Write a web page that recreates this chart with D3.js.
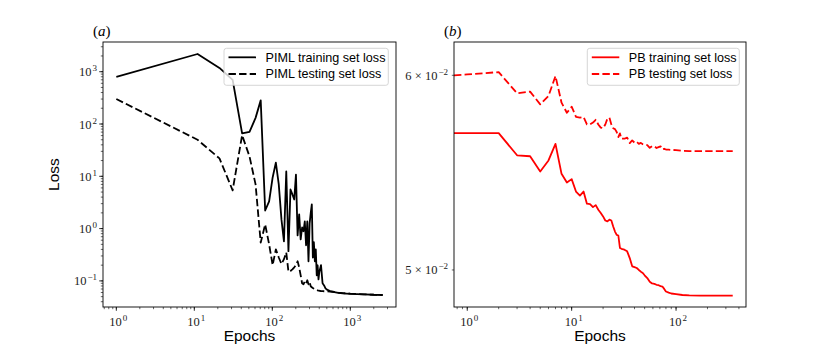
<!DOCTYPE html>
<html>
<head>
<meta charset="utf-8">
<script src="https://cdn.jsdelivr.net/npm/d3@7"></script>
<style>
  html, body { margin: 0; padding: 0; background: #fff; }
  svg { display: block; }
</style>
</head>
<body>
<svg id="chart" width="830" height="346"></svg>
<script>
// ---------------- DATA ----------------
// Panel (a): PIML losses (sampled every 10 epochs, sparser at the flat tail)
const piEpochs = [1,11,21,31,41,51,61,71,81,91,101,111,121,131,141,151,161,171,181,191,201,211,221,231,241,251,261,271,281,291,301,311,321,331,341,351,361,371,381,391,401,421,441,461,481,501,551,601,701,801,1001,1501,2001,2601];
const piTrain = [800,2180,1180,700,66,71,131,283,2.22,3.3,9.5,18.3,7.0,1.5,0.57,12.4,0.37,5.6,4.5,3.6,10.8,0.74,1.87,0.62,1.05,0.89,1.37,0.48,1.37,0.237,1.26,2.0,2.9,0.28,0.55,0.237,0.40,0.128,0.199,0.107,0.15,0.2,0.09,0.082,0.072,0.068,0.064,0.062,0.0593,0.058,0.0567,0.0555,0.0543,0.0538];
const piTest  = [300,50,22,5.4,61,24,7.0,0.54,1.2,0.5,0.2,0.4,0.28,0.21,0.26,0.35,0.15,0.155,0.166,0.182,0.2,0.237,0.182,0.128,0.09,0.086,0.098,0.09,0.103,0.086,0.094,0.079,0.0755,0.073,0.071,0.069,0.068,0.067,0.066,0.0655,0.0648,0.064,0.0637,0.0634,0.0632,0.063,0.0625,0.062,0.0597,0.0585,0.0571,0.0555,0.0543,0.0538];

// Panel (b): PB losses
const pbEpochs = [0,1,2,3,4,5,6,7,8,9,10,11,12,13,14,15,16,17,18,19,20,21,22,23,24,25,26,27,28,29,30,32,34,36,38,40,42,44,46,48,50,53,56,59,62,65,68,71,74,77,80,85,90,100,115,134,170,220,280,349];
const pbTrain = [0.05684,0.05684,0.05684,0.05567,0.05562,0.05483,0.0554,0.05627,0.05471,0.05427,0.05444,0.05381,0.05361,0.05381,0.0532,0.05318,0.05303,0.05313,0.0529,0.05274,0.05257,0.05237,0.05233,0.05241,0.05237,0.05208,0.05183,0.05167,0.05164,0.05104,0.051,0.05096,0.05088,0.05056,0.05017,0.05013,0.05009,0.05,0.04992,0.04986,0.04975,0.04962,0.04945,0.04937,0.04935,0.04931,0.04929,0.04925,0.04923,0.04912,0.049,0.04895,0.04891,0.04888,0.04884,0.04882,0.04881,0.04881,0.04881,0.04881];
const pbTest  = [0.06,0.06005,0.06018,0.059,0.05909,0.05839,0.05885,0.05996,0.05848,0.05793,0.05826,0.05771,0.05767,0.05771,0.0573,0.0573,0.0574,0.05755,0.0573,0.05713,0.0571,0.0573,0.05761,0.05767,0.0573,0.0571,0.05705,0.0569,0.05663,0.05682,0.05654,0.05654,0.0566,0.05631,0.05645,0.05633,0.05638,0.05627,0.05632,0.05625,0.05623,0.0562,0.05606,0.05615,0.05614,0.05605,0.0561,0.05614,0.05598,0.05601,0.05597,0.05596,0.05595,0.05594,0.0559,0.05589,0.05589,0.05589,0.05589,0.05589];

// Tick labels
const xTicksA = [1,10,100,1000];
const xTickExpA = ["0","1","2","3"];
const yTicksA = [0.1,1,10,100,1000];
const yTickExpA = ["\u22121","0","1","2","3"];
const xTicksB = [1,10,100];
const xTickExpB = ["0","1","2"];
const yTicksB = [0.05,0.06];
const yTickMantB = ["5","6"];
const yTickExpB = ["\u22122","\u22122"];

const legendA = ["PIML training set loss","PIML testing set loss"];
const legendB = ["PB training set loss","PB testing set loss"];

// ---------------- DRAW ----------------
const svg = d3.select("#chart");
const serif = "'Liberation Serif','DejaVu Serif',serif";
const sans = "'Liberation Sans','DejaVu Sans',sans-serif";
const DASH = "7.4,3.2";

function minorTicks(domain) {
  const lo = Math.floor(Math.log10(domain[0])), hi = Math.ceil(Math.log10(domain[1]));
  const out = [];
  for (let d = lo; d <= hi; d++) for (let k = 1; k <= 9; k++) {
    const v = k * Math.pow(10, d);
    if (v >= domain[0] * 0.9999 && v <= domain[1] * 1.0001) out.push(v);
  }
  return out;
}

function panel(opt) {
  const g = svg.append("g");
  const x = d3.scaleLog().domain(opt.xDomain).range([opt.left, opt.right]).clamp(true);
  const y = d3.scaleLog().domain(opt.yDomain).range([opt.bottom, opt.top]);

  const cid = "clip" + opt.id;
  svg.append("clipPath").attr("id", cid).append("rect")
    .attr("x", opt.left).attr("y", opt.top)
    .attr("width", opt.right - opt.left).attr("height", opt.bottom - opt.top);

  const line = d3.line().x(d => x(d[0])).y(d => y(d[1]));
  const series = [
    {vals: opt.train, dash: null},
    {vals: opt.test, dash: DASH}
  ];
  const lg = g.append("g").attr("clip-path", `url(#${cid})`);
  series.forEach(s => {
    lg.append("path")
      .attr("d", line(opt.epochs.map((e, i) => [e, s.vals[i]])))
      .attr("fill", "none").attr("stroke", opt.color).attr("stroke-width", 1.8)
      .attr("stroke-linejoin", "round")
      .attr("stroke-dasharray", s.dash);
  });

  // x ticks
  const xmin = opt.xMinor ? minorTicks(opt.xDomain) : [];
  g.selectAll(null).data(xmin).enter().append("line")
    .attr("x1", d => x(d)).attr("x2", d => x(d))
    .attr("y1", opt.bottom).attr("y2", opt.bottom + 2.2)
    .attr("stroke", "#000").attr("stroke-width", 0.6);
  g.selectAll(null).data(opt.xTicks).enter().append("line")
    .attr("x1", d => x(d)).attr("x2", d => x(d))
    .attr("y1", opt.bottom).attr("y2", opt.bottom + 3.8)
    .attr("stroke", "#000").attr("stroke-width", 0.8);
  const xl = g.selectAll(null).data(opt.xTicks).enter().append("text")
    .attr("x", d => x(d) + 2).attr("y", opt.bottom + 18.5)
    .attr("text-anchor", "middle")
    .attr("font-family", serif).attr("font-size", 12.5).attr("fill", "#222");
  xl.append("tspan").text("10");
  xl.append("tspan").attr("dx", 1).attr("dy", -5).attr("font-size", 9).text((d, i) => opt.xExp[i]);

  // y ticks
  const ymin = opt.yMinor ? minorTicks(opt.yDomain) : opt.yTicks;
  g.selectAll(null).data(ymin).enter().append("line")
    .attr("x1", opt.left).attr("x2", opt.left - 2.2)
    .attr("y1", d => y(d)).attr("y2", d => y(d))
    .attr("stroke", "#000").attr("stroke-width", 0.6);
  if (opt.yMinor) {
    g.selectAll(null).data(opt.yTicks).enter().append("line")
      .attr("x1", opt.left).attr("x2", opt.left - 3.8)
      .attr("y1", d => y(d)).attr("y2", d => y(d))
      .attr("stroke", "#000").attr("stroke-width", 0.8);
  }
  const yl = g.selectAll(null).data(opt.yTicks).enter().append("text")
    .attr("x", opt.left - 6).attr("y", d => y(d) + 4.5)
    .attr("text-anchor", "end")
    .attr("font-family", serif).attr("font-size", 12.5).attr("fill", "#222");
  yl.append("tspan").text((d, i) => (opt.yMant ? opt.yMant[i] + " \u00d7 " : "") + "10");
  yl.append("tspan").attr("dx", 1).attr("dy", -5).attr("font-size", 9).text((d, i) => opt.yExp[i]);

  // frame
  g.append("rect").attr("x", opt.left).attr("y", opt.top)
    .attr("width", opt.right - opt.left).attr("height", opt.bottom - opt.top)
    .attr("fill", "none").attr("stroke", "#000").attr("stroke-width", 0.9);

  // x label
  g.append("text").attr("x", (opt.left + opt.right) / 2).attr("y", opt.bottom + 34)
    .attr("text-anchor", "middle").attr("font-family", sans).attr("font-size", 15.5)
    .text("Epochs");
  if (opt.ylabel) {
    g.append("text").attr("transform", `translate(${opt.left - 44},${(opt.top + opt.bottom) / 2}) rotate(-90)`)
      .attr("text-anchor", "middle").attr("font-family", sans).attr("font-size", 15.5)
      .text(opt.ylabel);
  }
  // panel title: upright parens, italic letter
  const tt = g.append("text").attr("x", opt.left - 10).attr("y", opt.top - 6)
    .attr("font-family", serif).attr("font-size", 15);
  tt.append("tspan").text("(");
  tt.append("tspan").attr("font-style", "italic").text(opt.title);
  tt.append("tspan").text(")");

  // legend
  const L = opt.legend;
  const lgd = g.append("g");
  lgd.append("rect").attr("x", L.x).attr("y", L.y).attr("width", L.w).attr("height", 37)
    .attr("rx", 2.5).attr("fill", "#fff").attr("fill-opacity", 0.8)
    .attr("stroke", "#ccc").attr("stroke-width", 0.8);
  opt.legendLabels.forEach((t, i) => {
    const yy = L.y + 9 + i * 16.7;
    lgd.append("line").attr("x1", L.x + 4.5).attr("x2", L.x + 32)
      .attr("y1", yy).attr("y2", yy)
      .attr("stroke", opt.color).attr("stroke-width", 1.8)
      .attr("stroke-dasharray", series[i].dash);
    lgd.append("text").attr("x", L.x + 41.5).attr("y", yy + 4.3)
      .attr("font-family", sans).attr("font-size", 12.6).text(t);
  });
}

panel({
  id: "a", left: 103, right: 396, top: 42, bottom: 307,
  xDomain: [Math.pow(10, -0.171), Math.pow(10, 3.586)],
  yDomain: [Math.pow(10, -1.499), Math.pow(10, 3.568)],
  epochs: piEpochs, train: piTrain, test: piTest, color: "#000",
  xTicks: xTicksA, xExp: xTickExpA, xMinor: true,
  yTicks: yTicksA, yExp: yTickExpA, yMinor: true,
  ylabel: "Loss", title: "a",
  legend: {x: 224, y: 48.3, w: 164.3}, legendLabels: legendA
});

panel({
  id: "b", left: 454, right: 746, top: 42, bottom: 307,
  xDomain: [Math.pow(10, -0.127), Math.pow(10, 2.670)],
  yDomain: [Math.pow(10, -1.3161), Math.pow(10, -1.2083)],
  epochs: pbEpochs, train: pbTrain, test: pbTest, color: "#ff0000",
  xTicks: xTicksB, xExp: xTickExpB, xMinor: true,
  yTicks: yTicksB, yExp: yTickExpB, yMant: yTickMantB, yMinor: false,
  ylabel: null, title: "b",
  legend: {x: 587.3, y: 48.3, w: 152}, legendLabels: legendB
});
</script>
</body>
</html>
